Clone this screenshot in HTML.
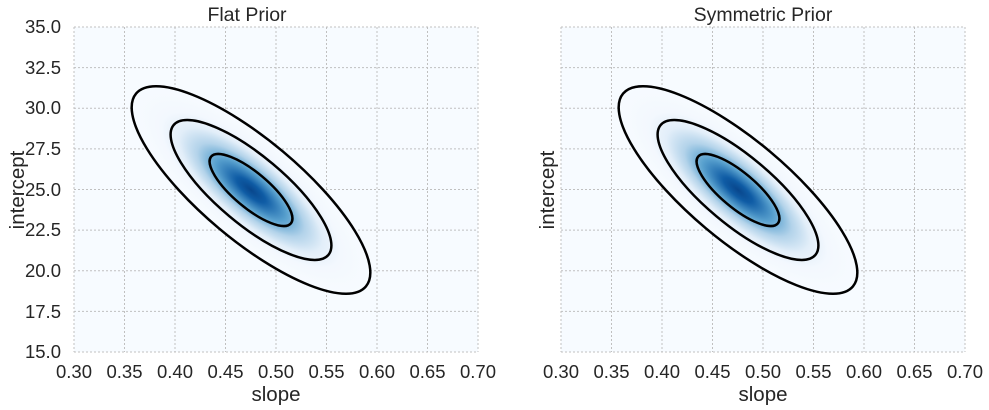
<!DOCTYPE html>
<html><head><meta charset="utf-8"><style>
html,body{margin:0;padding:0;background:#fff;}
svg{display:block;font-family:"Liberation Sans",Arial,sans-serif;fill:#262626;}
</style></head><body>
<svg width="989" height="410" viewBox="0 0 989 410" xmlns="http://www.w3.org/2000/svg">
<defs>
<radialGradient id="g">
<stop offset="0" stop-color="#08468c"/>
<stop offset="0.12" stop-color="#0f5ca5"/>
<stop offset="0.3" stop-color="#5aa2cf"/>
<stop offset="0.45" stop-color="#b3d3ea"/>
<stop offset="0.6" stop-color="#e2eef9"/>
<stop offset="0.75" stop-color="#f3f8fe"/>
<stop offset="1" stop-color="#f7fbff"/>
</radialGradient>
<g id="plot">
<rect x="0" y="0" width="404" height="325" fill="#f7fbff"/>
<g stroke="#c0c0c0" stroke-width="1" stroke-dasharray="2,2">
<line x1="50.5" y1="0" x2="50.5" y2="325"/><line x1="101" y1="0" x2="101" y2="325"/>
<line x1="151.5" y1="0" x2="151.5" y2="325"/><line x1="202" y1="0" x2="202" y2="325"/>
<line x1="252.5" y1="0" x2="252.5" y2="325"/><line x1="303" y1="0" x2="303" y2="325"/>
<line x1="353.5" y1="0" x2="353.5" y2="325"/><line x1="404" y1="0" x2="404" y2="325"/>
<line x1="0" y1="0" x2="0" y2="325"/>
<line x1="0" y1="0" x2="404" y2="0"/><line x1="0" y1="40.6" x2="404" y2="40.6"/>
<line x1="0" y1="81.25" x2="404" y2="81.25"/><line x1="0" y1="121.9" x2="404" y2="121.9"/>
<line x1="0" y1="162.5" x2="404" y2="162.5"/><line x1="0" y1="203.1" x2="404" y2="203.1"/>
<line x1="0" y1="243.75" x2="404" y2="243.75"/><line x1="0" y1="284.4" x2="404" y2="284.4"/>
<line x1="0" y1="325" x2="404" y2="325"/>
</g>
<g transform="translate(177,163) rotate(40)">
<ellipse cx="0" cy="0" rx="150" ry="50" fill="url(#g)"/>
<g fill="none" stroke="#000" stroke-width="2.5">
<ellipse cx="0" cy="0" rx="150" ry="50"/>
<ellipse cx="0" cy="0" rx="101" ry="34"/>
<ellipse cx="0" cy="0" rx="52" ry="17.5"/>
</g>
</g>
</g>
</defs>
<use href="#plot" x="74" y="27"/>
<use href="#plot" x="561" y="27"/>
<g font-size="18.5">
<text x="247" y="21" text-anchor="middle" font-size="19.5">Flat Prior</text>
<text x="763" y="21" text-anchor="middle" font-size="19.5">Symmetric Prior</text>
<g text-anchor="end">
<text x="61" y="33">35.0</text><text x="61" y="74">32.5</text><text x="61" y="114">30.0</text>
<text x="61" y="155">27.5</text><text x="61" y="196">25.0</text><text x="61" y="236">22.5</text>
<text x="61" y="277">20.0</text><text x="61" y="318">17.5</text><text x="61" y="358">15.0</text>
</g>
<g text-anchor="middle">
<text x="74" y="378">0.30</text><text x="124.5" y="378">0.35</text><text x="175" y="378">0.40</text>
<text x="225.5" y="378">0.45</text><text x="276" y="378">0.50</text><text x="326.5" y="378">0.55</text>
<text x="377" y="378">0.60</text><text x="427.5" y="378">0.65</text><text x="478" y="378">0.70</text>
<text x="561" y="378">0.30</text><text x="611.5" y="378">0.35</text><text x="662" y="378">0.40</text>
<text x="712.5" y="378">0.45</text><text x="763" y="378">0.50</text><text x="813.5" y="378">0.55</text>
<text x="864" y="378">0.60</text><text x="914.5" y="378">0.65</text><text x="965" y="378">0.70</text>
<text x="276" y="401" font-size="20.5">slope</text>
<text x="763" y="401" font-size="20.5">slope</text>
<text transform="translate(24,190) rotate(-90)" font-size="20.5">intercept</text>
<text transform="translate(554,190) rotate(-90)" font-size="20.5">intercept</text>
</g>
</g>
</svg>
</body></html>
